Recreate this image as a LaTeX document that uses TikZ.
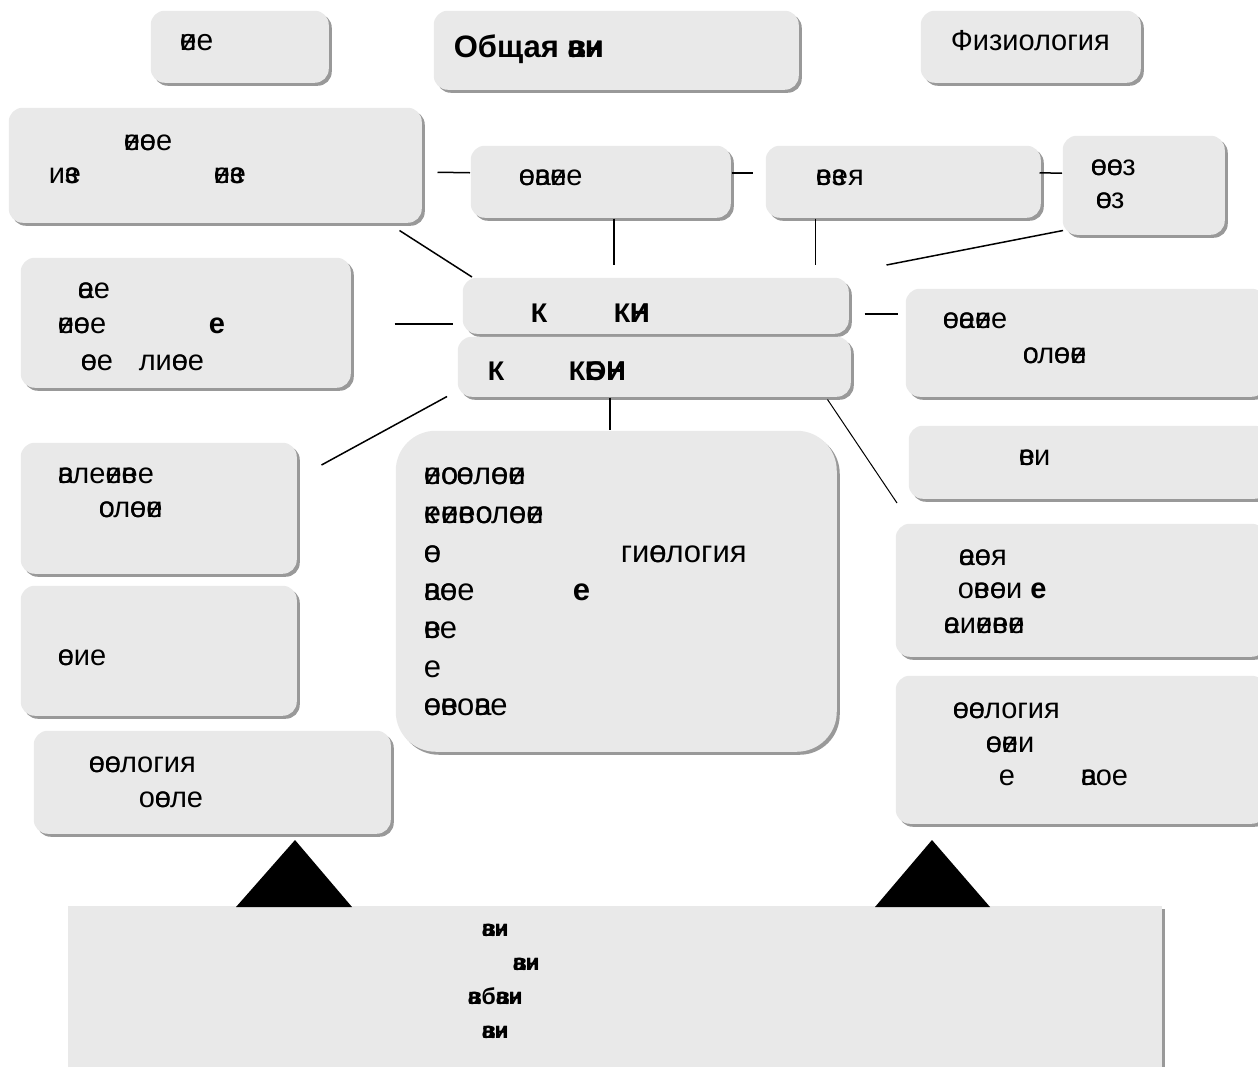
\documentclass[tikz,border=0pt]{standalone}
\usepackage{fontspec}
\setmainfont{Liberation Sans}
\usetikzlibrary{shadows}

\definecolor{boxgray}{RGB}{233,233,233}
\newcommand{\ov}[2]{\rlap{#1}#2}

\tikzset{every picture/.style={line width=1.5pt}}
\tikzset{
  box/.style={fill=boxgray, rounded corners=14pt, anchor=north west, inner sep=0pt,
    drop shadow={shadow xshift=3pt, shadow yshift=-3pt, fill=black!40, opacity=1}},
  txt/.style={anchor=base west, inner sep=0pt, font=\fontsize{29}{34}\selectfont},
  bigtxt/.style={txt, font=\fontsize{31}{36}\selectfont},
  boldtxt/.style={txt, font=\fontsize{27}{31}\selectfont\bfseries},
  bttxt/.style={txt, font=\fontsize{23}{27}\selectfont\bfseries},
}

\begin{document}
\begin{tikzpicture}[x=1pt,y=1pt,yscale=-1,xscale=1]
\useasboundingbox (0,0) rectangle (1258,1066);

%Shape: Boxes, top row
\node [box, minimum width=178pt, minimum height=72pt] (ee) at (150,10) {};
\node [box, minimum width=365pt, minimum height=79pt] (ttl) at (433,10) {};
\node [box, minimum width=220pt, minimum height=72pt] (fz) at (920,10) {};
%Shape: Boxes, second row
\node [box, minimum width=413pt, minimum height=115pt] (lt) at (8,107) {};
\node [box, minimum width=260pt, minimum height=72pt] (oe) at (470,145) {};
\node [box, minimum width=275pt, minimum height=72pt] (ea) at (765,145) {};
\node [box, minimum width=162pt, minimum height=99pt] (oz) at (1062,135) {};
%Shape: Boxes, middle
\node [box, minimum width=330pt, minimum height=130pt] (lb) at (20,257) {};
\node [box, minimum width=386pt, minimum height=56pt] (ka) at (462,277) {};
\node [box, minimum width=393pt, minimum height=60pt] (kb) at (457,336) {};
\node [box, minimum width=360pt, minimum height=108pt] (ra) at (905,288) {};
\node [box, minimum width=360pt, minimum height=73pt] (rb) at (908,425) {};
%Shape: Boxes, lower part
\node [box, minimum width=276pt, minimum height=131pt] (lc) at (20,442) {};
\node [box, minimum width=276pt, minimum height=130pt] (ld) at (20,585) {};
\node [box, minimum width=357pt, minimum height=103pt] (le) at (33,730) {};
\node [box, rounded corners=40pt, minimum width=441pt, minimum height=321pt] (cb) at (395,430) {};
\node [box, minimum width=370pt, minimum height=133pt] (rc) at (895,523) {};
\node [box, minimum width=370pt, minimum height=148pt] (rd) at (895,675) {};
%Shape: Bottom panel
\node [box, rounded corners=0pt, minimum width=1094pt, minimum height=200pt] (bt) at (67,905) {};

%Shape: Triangles
\fill (236,907) -- (295,840) -- (352,907) -- cycle ;
\fill (875,907) -- (932,840) -- (990,907) -- cycle ;

%Straight Lines
\draw ([shift={(15,7)}]lt.east) -- ([shift={(0,-9)}]oe.west) ;
\draw ([shift={(0,-9)}]oe.east) -- ([shift={(-12,-9)}]ea.west) ;
\draw ([shift={(-2,-9)}]ea.east) -- ([shift={(0,-12)}]oz.west) ;
\draw [shorten >=12pt] ([xshift=13]oe.south) -- ([xshift=13]oe.south |- ka.north) ;
\draw [shorten >=12pt] ([xshift=-88]ea.south) -- ([xshift=-88]ea.south |- ka.north) ;
\draw ([shift={(-23,7)}]lt.south east) -- ([shift={(10,0)}]ka.north west) ;
\draw ([shift={(1,-5)}]oz.south west) -- ([shift={(37,-12)}]ka.north east) ;
\draw ([shift={(43,1)}]lb.east) -- ([shift={(-9,18)}]ka.west) ;
\draw ([shift={(15,8)}]ka.east) -- ([shift={(-7,-29)}]ra.west) ;
\draw ([shift={(-10,-1)}]kb.south west) -- ([shift={(24,23)}]lc.north east) ;
\draw ([xshift=-44.5]kb.south) -- ([xshift=-44.5]kb.south |- cb.north) ;
\draw [line width=1pt] ([shift={(-24,2)}]kb.south east) -- ([shift={(2,-20)}]rc.north west) ;

% Text Node
\node [txt, font=\fontsize{30}{34}\selectfont] (tee) at (179,50) {\ov{е}{и}е};
\node [txt, font=\fontsize{31}{36}\selectfont\bfseries] (tttl) at (453,57) {Общая \ov{в}{а}\ov{н}{и}};
\node [txt] (tfz) at (950,50) {Физиология};
% Text Node
\node [txt] (tlt1) at (123,150) {\ov{е}{и}\ov{о}{е}е};
\node [txt] (tlt2) at (48,183) {и\ov{е}{з}};
\node [txt] (tlt3) at (213,183) {\ov{е}{и}\ov{е}{з}};
\node [txt] (toe) at (518,185) {\ov{о}{е}\ov{а}{в}\ov{е}{и}е};
\node [txt] (tea) at (815,185) {\ov{в}{е}\ov{з}{е}я};
\node [txt] (toz1) at (1090,175) {\ov{о}{е}\ov{о}{е}з};
\node [txt] (toz2) at (1095,208) {\ov{о}{е}з};
% Text Node
\node [txt] (tlb1) at (77,298) {\ov{а}{е}е};
\node [txt] (tlb2) at (57,333) {\ov{е}{и}\ov{о}{е}е};
\node [txt] (tlb3) at (208,333) {\textbf{е}};
\node [txt] (tlb4) at (80,370) {\ov{о}{е}е};
\node [txt] (tlb5) at (138,370) {ли\ov{о}{е}е};
\node [boldtxt] (tka1) at (530,322) {К};
\node [boldtxt] (tka2) at (613,322) {К\ov{Н}{И}};
\node [boldtxt] (tkb1) at (487,380) {К};
\node [boldtxt] (tkb2) at (568,380) {К\ov{Б}{О}\ov{Н}{И}};
\node [txt] (tra1) at (942,328) {\ov{о}{е}\ov{а}{е}\ov{и}{е}е};
\node [txt] (tra2) at (1022,363) {\ov{о}{с}л\ov{о}{е}\ov{е}{и}};
\node [txt] (trb) at (1018,465) {\ov{е}{в}и};
% Text Node
\node [txt] (tlc1) at (57,483) {\ov{а}{в}ле\ov{и}{е}\ov{в}{е}е};
\node [txt] (tlc2) at (98,517) {\ov{о}{с}л\ov{о}{е}\ov{е}{и}};
\node [txt] (tld) at (57,665) {\ov{о}{е}ие};
\node [txt] (tle1) at (88,772) {\ov{о}{е}\ov{о}{е}логия};
\node [txt] (tle2) at (138,807) {о\ov{о}{е}ле};
% Text Node
\node [bigtxt] (tcb1) at (423,484) {\ov{е}{и}\ov{о}{с}\ov{е}{о}л\ov{о}{е}\ov{е}{и}};
\node [bigtxt] (tcb2) at (423,523) {\ov{к}{е}\ov{е}{и}\ov{в}{е}\ov{о}{с}л\ov{о}{е}\ov{е}{и}};
\node [bigtxt] (tcb3) at (423,562) {\ov{о}{е}};
\node [bigtxt] (tcb4) at (620,562) {ги\ov{о}{е}логия};
\node [bigtxt] (tcb5) at (423,600) {\ov{а}{в}\ov{о}{е}е};
\node [bigtxt] (tcb6) at (572,600) {\textbf{е}};
\node [bigtxt] (tcb7) at (423,638) {\ov{е}{в}е};
\node [bigtxt] (tcb8) at (423,677) {е};
\node [bigtxt] (tcb9) at (423,715) {\ov{о}{е}\ov{е}{в}о\ov{а}{в}е};
% Text Node
\node [txt] (trc1) at (958,565) {\ov{а}{е}\ov{о}{е}я};
\node [txt] (trc2) at (957,598) {о\ov{в}{е}\ov{о}{е}и \textbf{е}};
\node [txt] (trc3) at (943,633) {\ov{а}{е}и\ov{е}{и}\ov{в}{е}\ov{е}{и}};
\node [txt] (trd1) at (952,718) {\ov{о}{е}\ov{о}{е}логия};
\node [txt] (trd2) at (985,752) {\ov{о}{е}\ov{е}{и}и};
\node [txt] (trd3) at (998,785) {е};
\node [txt] (trd4) at (1080,785) {\ov{а}{в}ое};
% Text Node
\node [bttxt] (tbt1) at (481,936) {\ov{в}{а}\ov{н}{и}};
\node [bttxt] (tbt2) at (512,970) {\ov{в}{а}\ov{н}{и}};
\node [bttxt] (tbt3) at (467,1004) {\ov{а}{в}б\ov{в}{а}\ov{н}{и}};
\node [bttxt] (tbt4) at (481,1038) {\ov{в}{а}\ov{н}{и}};

\end{tikzpicture}
\end{document}
